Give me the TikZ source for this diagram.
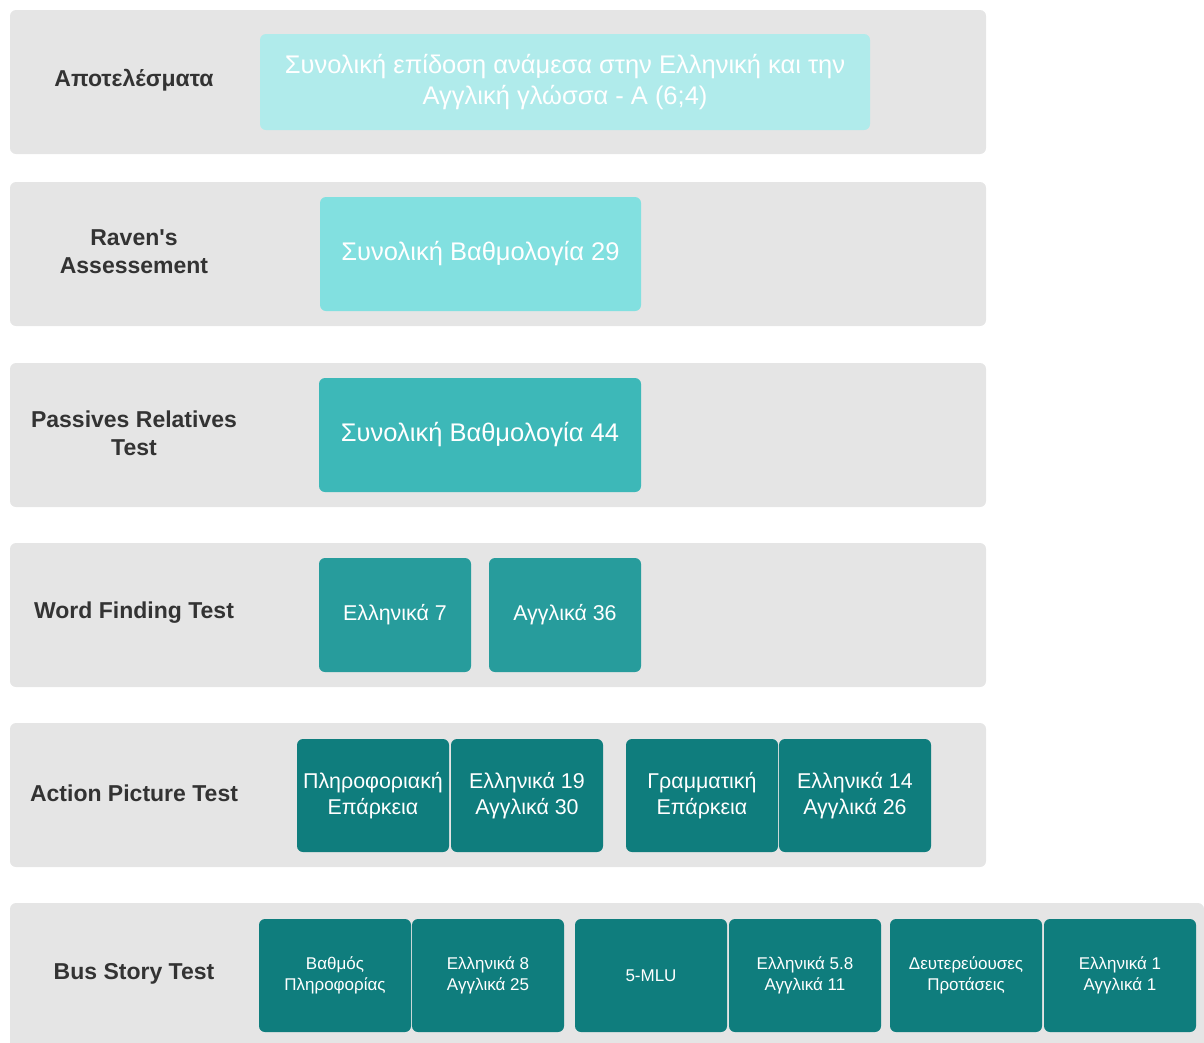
\documentclass[tikz,border=0pt]{standalone}
\usepackage{fontspec}
\setmainfont{Liberation Sans}[Ligatures=TeXOff]
\usepackage{tikz}

\definecolor{band}{HTML}{E5E5E5}
\definecolor{labeltext}{HTML}{333333}
\definecolor{tealA}{HTML}{B0EBEB}
\definecolor{tealB}{HTML}{82E0E0}
\definecolor{tealC}{HTML}{3DB8B8}
\definecolor{tealD}{HTML}{279C9C}
\definecolor{tealE}{HTML}{0F7D7D}

\begin{document}
\begin{tikzpicture}[x=1pt,y=-1pt,%
  rowband/.style={fill=band, rounded corners=6pt},
  rowlabel/.style={font=\fontsize{23}{28}\selectfont\bfseries, text=labeltext,
    align=center},
  box/.style={rounded corners=6pt, inner sep=0pt, text=white, align=center,
    minimum width=152pt, minimum height=114pt},
  bigbox/.style={box, font=\fontsize{25.5}{31}\selectfont},
  midbox/.style={box, font=\fontsize{21.4}{26}\selectfont, minimum height=113pt},
  smallbox/.style={box, font=\fontsize{17}{21}\selectfont, minimum height=113pt}]

  \clip (0,0) rectangle (1204,1042);
  \useasboundingbox (0,0) rectangle (1204,1042);

  % grey rows
  \fill[rowband] (10,10) rectangle (986,154);
  \fill[rowband] (10,182) rectangle (986,326);
  \fill[rowband] (10,363) rectangle (986,507);
  \fill[rowband] (10,543) rectangle (986,687);
  \fill[rowband] (10,723) rectangle (986,867);
  \fill[rowband] (10,903) rectangle (1204,1060);

  % row titles
  \node[rowlabel] (results) at (134,80) {Αποτελέσματα};
  \node[rowlabel] (raven) at (134,252) {Raven's\\Assessement};
  \node[rowlabel] (passives) at (134,433) {Passives Relatives\\Test};
  \node[rowlabel] (wordfind) at (134,613) {Word Finding Test};
  \node[rowlabel] (action) at (134,793) {Action Picture Test};
  \node[rowlabel] (bus) at (134,974) {Bus Story Test};

  % scores
  \node[bigbox, fill=tealA, minimum width=610pt, minimum height=96pt]
    (overall) at (565,82)
    {Συνολική επίδοση ανάμεσα στην Ελληνική και την\\Αγγλική γλώσσα - Α (6;4)};
  \node[bigbox, fill=tealB, minimum width=321pt] (ravenscore) at (480.5,254)
    {Συνολική Βαθμολογία 29};
  \node[bigbox, fill=tealC, minimum width=322pt] (passscore) at (480,435)
    {Συνολική Βαθμολογία 44};

  \node[midbox, fill=tealD, minimum height=114pt] (wfgr) at (395,615) {Ελληνικά 7};
  \node[midbox, fill=tealD, minimum height=114pt] (wfen) at (565,615) {Αγγλικά 36};

  \node[midbox, fill=tealE] (info) at (373,795.5) {Πληροφοριακή\\Επάρκεια};
  \node[midbox, fill=tealE] (infoscore) at (527,795.5) {Ελληνικά 19\\Αγγλικά 30};
  \node[midbox, fill=tealE] (gram) at (702,795.5) {Γραμματική\\Επάρκεια};
  \node[midbox, fill=tealE] (gramscore) at (855,795.5) {Ελληνικά 14\\Αγγλικά 26};

  \node[smallbox, fill=tealE] (grade) at (335,975.5) {Βαθμός\\Πληροφορίας};
  \node[smallbox, fill=tealE] (gradescore) at (488,975.5) {Ελληνικά 8\\Αγγλικά 25};
  \node[smallbox, fill=tealE] (mlu) at (651,975.5) {5-MLU};
  \node[smallbox, fill=tealE] (mluscore) at (805,975.5) {Ελληνικά 5.8\\Αγγλικά 11};
  \node[smallbox, fill=tealE] (subord) at (966,975.5) {Δευτερεύουσες\\Προτάσεις};
  \node[smallbox, fill=tealE] (subordscore) at (1120,975.5) {Ελληνικά 1\\Αγγλικά 1};
\end{tikzpicture}
\end{document}
